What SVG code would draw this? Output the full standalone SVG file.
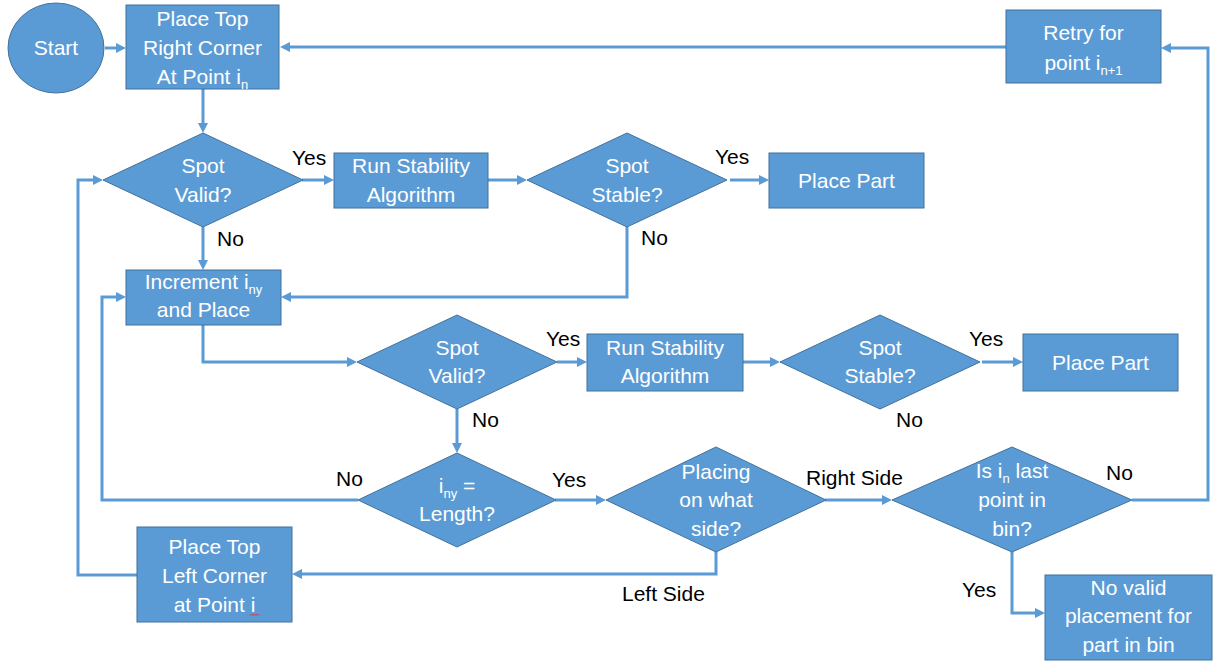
<svg xmlns="http://www.w3.org/2000/svg" width="1213" height="661" viewBox="0 0 1213 661">
<style>
.shape{fill:#5b9bd5;stroke:#41719c;stroke-width:1}
.t{font-family:"Liberation Sans",Arial,sans-serif;font-size:21px;fill:#fff;text-anchor:middle}
.lbl{font-family:"Liberation Sans",Arial,sans-serif;font-size:21px;fill:#000}
.sub{font-size:13px}
.c{fill:none;stroke:#5b9bd5;stroke-width:3;marker-end:url(#ah)}
</style>
<defs>
<marker id="ah" markerUnits="userSpaceOnUse" markerWidth="10" markerHeight="10" refX="2" refY="5" orient="auto">
<path d="M0,0 L10,5 L0,10 Z" fill="#5b9bd5"/>
</marker>
</defs>
<rect width="1213" height="661" fill="#fff"/>

<g id="connectors">
<path class="c" d="M105,48 H118"/>
<path class="c" d="M1006,47 H288"/>
<path class="c" d="M203,89 V125"/>
<path class="c" d="M302,180 H326"/>
<path class="c" d="M488,180 H519"/>
<path class="c" d="M730,180 H761"/>
<path class="c" d="M203,227 V262"/>
<path class="c" d="M627,227 V297 H289"/>
<path class="c" d="M203,325 V362 H349"/>
<path class="c" d="M557,362 H579"/>
<path class="c" d="M743,362 H772"/>
<path class="c" d="M982,362 H1015"/>
<path class="c" d="M457,409 V445"/>
<path class="c" d="M358,500 H102 V297 H118"/>
<path class="c" d="M555,500 H598"/>
<path class="c" d="M825,500 H884"/>
<path class="c" d="M1132,500 H1208 V48 H1169"/>
<path class="c" d="M1012,552 V613 H1037"/>
<path class="c" d="M716,551 V574 H300"/>
<path class="c" d="M137,575 H78 V180 H95"/>
</g>

<g id="labels">
<text class="lbl" x="292" y="165">Yes</text>
<text class="lbl" x="217" y="246">No</text>
<text class="lbl" x="715" y="164">Yes</text>
<text class="lbl" x="641" y="245">No</text>
<text class="lbl" x="546" y="346">Yes</text>
<text class="lbl" x="969" y="346">Yes</text>
<text class="lbl" x="472" y="427">No</text>
<text class="lbl" x="896" y="427">No</text>
<text class="lbl" x="336" y="486">No</text>
<text class="lbl" x="552" y="487">Yes</text>
<text class="lbl" x="806" y="485">Right Side</text>
<text class="lbl" x="1106" y="480">No</text>
<text class="lbl" x="622" y="601">Left Side</text>
<text class="lbl" x="962" y="597">Yes</text>
</g>

<g id="start">
<ellipse class="shape" cx="56" cy="48" rx="48" ry="45"/>
<text class="t" x="56" y="55">Start</text>
</g>

<g id="place-top-right">
<rect class="shape" x="126" y="5" width="153" height="84"/>
<text class="t" x="202.5" y="26">Place Top</text>
<text class="t" x="202.5" y="55">Right Corner</text>
<text class="t" x="202.5" y="84">At Point i<tspan class="sub" dy="5">n</tspan></text>
</g>

<g id="retry">
<rect class="shape" x="1006" y="10" width="155" height="73"/>
<text class="t" x="1083.5" y="40">Retry for</text>
<text class="t" x="1083.5" y="70">point i<tspan class="sub" dy="5">n+1</tspan></text>
</g>

<g id="spot-valid-1">
<polygon class="shape" points="203,133 303,180 203,227 103,180"/>
<text class="t" x="203" y="173">Spot</text>
<text class="t" x="203" y="202">Valid?</text>
</g>

<g id="run-stability-1">
<rect class="shape" x="334" y="153" width="154" height="55"/>
<text class="t" x="411" y="173">Run Stability</text>
<text class="t" x="411" y="202">Algorithm</text>
</g>

<g id="spot-stable-1">
<polygon class="shape" points="627,133 727,180 627,227 527,180"/>
<text class="t" x="627" y="173">Spot</text>
<text class="t" x="627" y="202">Stable?</text>
</g>

<g id="place-part-1">
<rect class="shape" x="769" y="153" width="155" height="55"/>
<text class="t" x="846.5" y="188">Place Part</text>
</g>

<g id="increment">
<rect class="shape" x="126" y="270" width="155" height="55"/>
<text class="t" x="203.5" y="289">Increment i<tspan class="sub" dy="5">ny</tspan></text>
<text class="t" x="203.5" y="317">and Place</text>
</g>

<g id="spot-valid-2">
<polygon class="shape" points="457,315 557,362 457,409 357,362"/>
<text class="t" x="457" y="355">Spot</text>
<text class="t" x="457" y="383">Valid?</text>
</g>

<g id="run-stability-2">
<rect class="shape" x="587" y="334" width="156" height="57"/>
<text class="t" x="665" y="355">Run Stability</text>
<text class="t" x="665" y="383">Algorithm</text>
</g>

<g id="spot-stable-2">
<polygon class="shape" points="880,315 980,362 880,409 780,362"/>
<text class="t" x="880" y="355">Spot</text>
<text class="t" x="880" y="383">Stable?</text>
</g>

<g id="place-part-2">
<rect class="shape" x="1023" y="334" width="155" height="57"/>
<text class="t" x="1100.5" y="370">Place Part</text>
</g>

<g id="iny-length">
<polygon class="shape" points="457,453 556,500 457,547 358,500"/>
<text class="t" x="457" y="493">i<tspan class="sub" dy="5">ny</tspan><tspan dy="-5"> =</tspan></text>
<text class="t" x="457" y="521">Length?</text>
</g>

<g id="placing-side">
<polygon class="shape" points="716,447 826,500 716,552 606,500"/>
<text class="t" x="716" y="479">Placing</text>
<text class="t" x="716" y="507">on what</text>
<text class="t" x="716" y="536">side?</text>
</g>

<g id="is-last-point">
<polygon class="shape" points="1012,447 1132,500 1012,552 892,500"/>
<text class="t" x="1012" y="478">Is i<tspan class="sub" dy="5">n</tspan><tspan dy="-5"> last</tspan></text>
<text class="t" x="1012" y="507">point in</text>
<text class="t" x="1012" y="536">bin?</text>
</g>

<g id="place-top-left">
<rect class="shape" x="137" y="527" width="155" height="95"/>
<text class="t" x="214.5" y="554">Place Top</text>
<text class="t" x="214.5" y="583">Left Corner</text>
<text class="t" x="214.5" y="612">at Point i</text>
<path d="M250,615.5 l1.5,-1.5 l1.5,1.5 l1.5,-1.5 l1.5,1.5 l1.5,-1.5 l1.5,1.5" fill="none" stroke="#e03030" stroke-width="1"/>
</g>

<g id="no-valid">
<rect class="shape" x="1045" y="575" width="167" height="85"/>
<text class="t" x="1128.5" y="595">No valid</text>
<text class="t" x="1128.5" y="623">placement for</text>
<text class="t" x="1128.5" y="652">part in bin</text>
</g>
</svg>
